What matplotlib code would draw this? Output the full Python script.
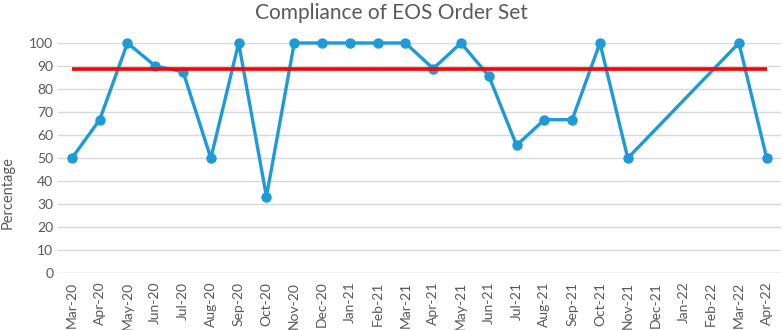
import numpy as np
from matplotlib import pyplot as plt

months = ["Mar-20", "Apr-20", "May-20", "Jun-20", "Jul-20", "Aug-20", "Sep-20", "Oct-20",
          "Nov-20", "Dec-20", "Jan-21", "Feb-21", "Mar-21", "Apr-21", "May-21", "Jun-21",
          "Jul-21", "Aug-21", "Sep-21", "Oct-21", "Nov-21", "Dec-21", "Jan-22", "Feb-22",
          "Mar-22", "Apr-22"]
compliance = [50, 66.7, 100, 90, 87.5, 50, 100, 33.3,
              100, 100, 100, 100, 100, 88.9, 100, 85.7,
              55.6, 66.7, 66.7, 100, 50, np.nan, np.nan, np.nan,
              100, 50]
target = [88.7] * len(months)

plt.rcParams['font.family'] = ['Lato', 'DejaVu Sans']
grey = "#595959"

fig = plt.figure(figsize=(7.82, 3.30), dpi=100)
ax = fig.add_axes([58/782, 1 - 273.3/330, (780.6 - 58)/782, (273.3 - 43)/330])

x = np.arange(len(months))
vals = np.array(compliance, dtype=float)
ok = ~np.isnan(vals)
ax.plot(x[ok], vals[ok], color="#1f9ad8", lw=2.4, marker="o", ms=6.5, clip_on=False, zorder=3)
ax.plot(x, target, color="#ff0000", lw=2.6, solid_capstyle="butt", zorder=4)

ax.set_xlim(-0.5, len(months) - 0.5)
ax.set_ylim(0, 100)
ax.set_yticks(range(0, 101, 10))
ax.set_xticks(x)
ax.set_xticklabels(months, rotation=90)
ax.tick_params(axis="both", length=0, colors=grey, labelsize=10)
ax.tick_params(axis="x", pad=6)
ax.grid(axis="y", color="#d9d9d9", lw=1)
ax.set_axisbelow(True)
for s in ax.spines.values():
    s.set_visible(False)
ax.axhline(0, color="#d9d9d9", lw=1, zorder=1)

ax.set_ylabel("Percentage", color=grey, fontsize=10.5)
ax.yaxis.set_label_coords(-0.06, 0.35)
fig.suptitle("Compliance of EOS Order Set", color=grey, fontsize=15, y=0.99)

plt.savefig("out.png")
